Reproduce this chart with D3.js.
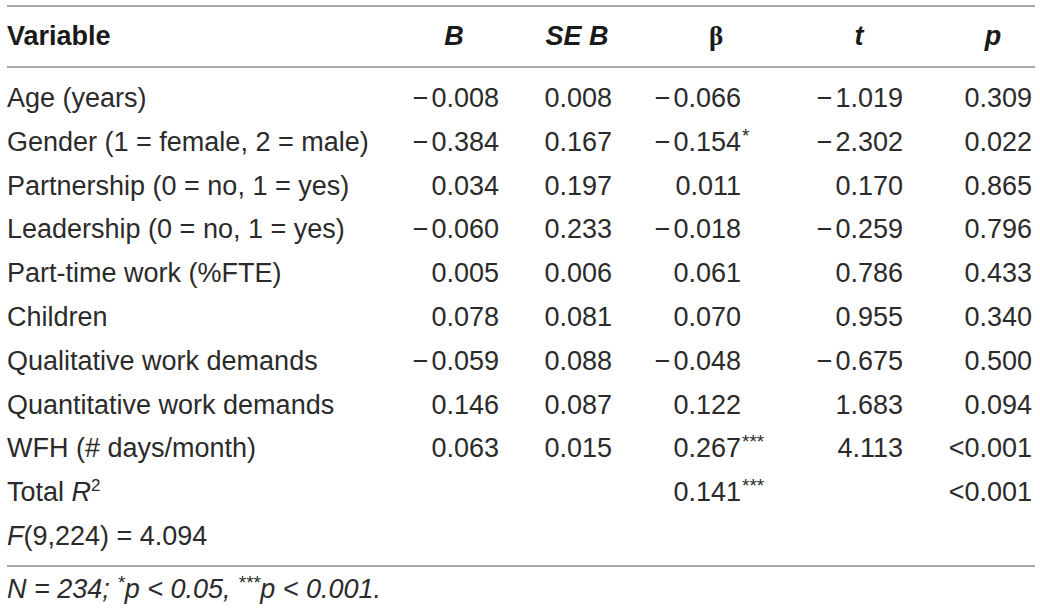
<!DOCTYPE html>
<html>
<head>
<meta charset="utf-8">
<script src="https://cdn.jsdelivr.net/npm/d3@7"></script>
<style>
  body { margin: 0; background: #fff; }
  svg text { font-family: "Liberation Sans", Arial, Helvetica, sans-serif; fill: #2b2b2b; }
  svg text.head { fill: #1a1a1a; }
</style>
</head>
<body>
<div class="regtable"></div>
<script>
// TABLE DATA ------------------------------
const variables = [
    "Age (years)",
    "Gender (1 = female, 2 = male)",
    "Partnership (0 = no, 1 = yes)",
    "Leadership (0 = no, 1 = yes)",
    "Part-time work (%FTE)",
    "Children",
    "Qualitative work demands",
    "Quantitative work demands",
    "WFH (# days/month)",
    "Total R2",
    "F(9,224) = 4.094"
];
const bValues    = ["−0.008", "−0.384", "0.034", "−0.060", "0.005", "0.078", "−0.059", "0.146", "0.063", "", ""];
const seValues   = ["0.008", "0.167", "0.197", "0.233", "0.006", "0.081", "0.088", "0.087", "0.015", "", ""];
const betaValues = ["−0.066", "−0.154", "0.011", "−0.018", "0.061", "0.070", "−0.048", "0.122", "0.267", "0.141", ""];
const betaStars  = ["", "*", "", "", "", "", "", "", "***", "***", ""];
const tValues    = ["−1.019", "−2.302", "0.170", "−0.259", "0.786", "0.955", "−0.675", "1.683", "4.113", "", ""];
const pValues    = ["0.309", "0.022", "0.865", "0.796", "0.433", "0.340", "0.500", "0.094", "<0.001", "<0.001", ""];
const headers    = ["Variable", "B", "SE B", "β", "t", "p"];

// LAYOUT ----------------------------------
const W = 1040, H = 611;
const fontSize = 27;

const svg = d3.select(".regtable")
    .append("svg")
    .attr("width", W)
    .attr("height", H);

// row baselines
const yScale = d3.scalePoint()
    .domain(d3.range(variables.length))
    .range([107, 545]);

// column anchors: header centres and value edges
const headX = d3.scaleOrdinal()
    .domain(headers)
    .range([7, 454, 577, 716, 859, 993]);

const colX = {label: 7, b: 499, se: 612, beta: 741, t: 903, p: 1032};

// rules
const rules = [6, 67, 566];
svg.selectAll(".rule")
    .data(rules)
    .enter()
    .append("line")
    .attr("class", "rule")
    .attr("x1", 7)
    .attr("x2", 1035)
    .attr("y1", d => d)
    .attr("y2", d => d)
    .attr("stroke", "#a7a9ac")
    .attr("stroke-width", 2);

// header
svg.selectAll(".head")
    .data(headers)
    .enter()
    .append("text")
    .attr("class", "head")
    .attr("x", d => headX(d))
    .attr("y", 45)
    .attr("font-size", fontSize)
    .attr("font-weight", "bold")
    .attr("font-style", d => (d === "Variable" || d === "β") ? "normal" : "italic")
    .style("font-family", d => d === "β" ? "'Liberation Serif', serif" : null)
    .attr("text-anchor", d => d === "Variable" ? "start" : "middle")
    .text(d => d);

// labels (with a few special cases for italics / superscript)
const labels = svg.selectAll(".label")
    .data(variables)
    .enter()
    .append("text")
    .attr("class", "label")
    .attr("x", colX.label)
    .attr("y", (d, i) => yScale(i))
    .attr("font-size", fontSize);

labels.each(function(d) {
    const t = d3.select(this);
    if (d === "Total R2") {
        t.append("tspan").text("Total ");
        t.append("tspan").attr("font-style", "italic").text("R");
        t.append("tspan").attr("font-size", 17).attr("dy", -10).text("2");
    } else if (d.startsWith("F(")) {
        t.append("tspan").attr("font-style", "italic").text("F");
        t.append("tspan").text(d.slice(1));
    } else {
        t.text(d);
    }
});

// right-aligned numeric columns; the minus gets a hair of extra room
function numCol(values, x, cls) {
    svg.selectAll("." + cls)
        .data(values)
        .enter()
        .append("text")
        .attr("class", cls)
        .attr("x", x)
        .attr("y", (d, i) => yScale(i))
        .attr("font-size", fontSize)
        .attr("text-anchor", "end")
        .each(function(d) {
            const t = d3.select(this);
            if (d.startsWith("−")) {
                t.append("tspan").text("−");
                t.append("tspan").attr("dx", 3).text(d.slice(1));
            } else {
                t.text(d);
            }
        });
}
numCol(bValues, colX.b, "bcol");
numCol(seValues, colX.se, "secol");
numCol(tValues, colX.t, "tcol");
numCol(pValues, colX.p, "pcol");

// beta: decimal-aligned, stars hang to the right
numCol(betaValues, colX.beta, "betacol");
svg.selectAll(".stars")
    .data(betaStars)
    .enter()
    .append("text")
    .attr("class", "stars")
    .attr("x", colX.beta + 1)
    .attr("y", (d, i) => yScale(i) - 9)
    .attr("font-size", 19)
    .text(d => d);

// footnote
const foot = svg.append("text")
    .attr("x", colX.label)
    .attr("y", 598)
    .attr("font-size", fontSize)
    .attr("font-style", "italic");
foot.append("tspan").text("N = 234; ");
foot.append("tspan").attr("font-size", 19).attr("dy", -9).text("*");
foot.append("tspan").attr("dy", 9).text("p < 0.05, ");
foot.append("tspan").attr("font-size", 19).attr("dy", -9).text("***");
foot.append("tspan").attr("dy", 9).text("p < 0.001.");
</script>
</body>
</html>
